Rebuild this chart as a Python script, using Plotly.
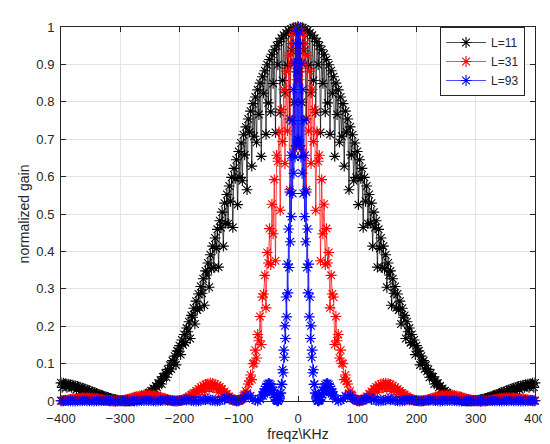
import plotly.graph_objects as go

# frequency grids (KHz)
freq_l11 = list(range(-400, 401, 2))
freq_l31 = list(range(-400, 401, 2))
freq_l93 = list(range(-400, -63, 4)) + list(range(-60, 61)) + list(range(64, 401, 4))

# normalized gain, L=11
gain_l11 = [
    0.0484,
    0.0365, 0.0475, 0.0442, 0.0465, 0.0367, 0.0453, 0.0392, 0.0439, 0.0362, 0.0423,
    0.0378, 0.0406, 0.0302, 0.0388, 0.0355, 0.0368, 0.0286, 0.0346, 0.0295, 0.0324,
    0.0263, 0.0301, 0.0263, 0.0277, 0.0201, 0.0253, 0.0226, 0.0228, 0.0173, 0.0203,
    0.0168, 0.0179, 0.0140, 0.0155, 0.0130, 0.0131, 0.0091, 0.0109, 0.0092, 0.0088,
    0.0062, 0.0068, 0.0052, 0.0050, 0.0035, 0.0035, 0.0025, 0.0022, 0.0012, 0.0011,
    0.0007, 0.0004, 0.0002, 0.0000, 0.0000, 0.0001, 0.0002, 0.0005, 0.0007, 0.0013,
    0.0014, 0.0026, 0.0033, 0.0044, 0.0044, 0.0068, 0.0071, 0.0095, 0.0095, 0.0131,
    0.0137, 0.0171, 0.0148, 0.0219, 0.0230, 0.0273, 0.0242, 0.0333, 0.0322, 0.0401,
    0.0367, 0.0475, 0.0469, 0.0554, 0.0456, 0.0645, 0.0650, 0.0741, 0.0634, 0.0845,
    0.0792, 0.0957, 0.0857, 0.108, 0.104, 0.120, 0.0965, 0.134, 0.133, 0.148,
    0.124, 0.163, 0.150, 0.178, 0.156, 0.195, 0.185, 0.212, 0.167, 0.229,
    0.224, 0.248, 0.206, 0.267, 0.243, 0.286, 0.249, 0.306, 0.288, 0.327,
    0.256, 0.348, 0.337, 0.369, 0.304, 0.391, 0.354, 0.414, 0.357, 0.436,
    0.408, 0.459, 0.358, 0.482, 0.464, 0.505, 0.414, 0.529, 0.475, 0.552,
    0.474, 0.575, 0.534, 0.598, 0.464, 0.622, 0.595, 0.645, 0.525, 0.667,
    0.598, 0.690, 0.589, 0.712, 0.658, 0.733, 0.565, 0.754, 0.719, 0.775,
    0.628, 0.795, 0.708, 0.813, 0.692, 0.832, 0.766, 0.850, 0.654, 0.867,
    0.823, 0.883, 0.713, 0.899, 0.797, 0.913, 0.773, 0.927, 0.849, 0.939,
    0.718, 0.950, 0.899, 0.961, 0.772, 0.970, 0.857, 0.978, 0.824, 0.984,
    0.898, 0.990, 0.754, 0.994, 0.936, 0.998, 0.799, 0.999, 0.880,
    1.000, 0.880, 0.999, 0.799, 0.998, 0.936, 0.994, 0.754, 0.990, 0.898,
    0.984, 0.824, 0.978, 0.857, 0.970, 0.772, 0.961, 0.899, 0.950, 0.718,
    0.939, 0.849, 0.927, 0.773, 0.913, 0.797, 0.899, 0.713, 0.883, 0.823,
    0.867, 0.654, 0.850, 0.766, 0.832, 0.692, 0.813, 0.708, 0.795, 0.628,
    0.775, 0.719, 0.754, 0.565, 0.733, 0.658, 0.712, 0.589, 0.690, 0.598,
    0.667, 0.525, 0.645, 0.595, 0.622, 0.464, 0.598, 0.534, 0.575, 0.474,
    0.552, 0.475, 0.529, 0.414, 0.505, 0.464, 0.482, 0.358, 0.459, 0.408,
    0.436, 0.357, 0.414, 0.354, 0.391, 0.304, 0.369, 0.337, 0.348, 0.256,
    0.327, 0.288, 0.306, 0.249, 0.286, 0.243, 0.267, 0.206, 0.248, 0.224,
    0.229, 0.167, 0.212, 0.185, 0.195, 0.156, 0.178, 0.150, 0.163, 0.124,
    0.148, 0.133, 0.134, 0.0965, 0.120, 0.104, 0.108, 0.0857, 0.0957, 0.0792,
    0.0845, 0.0634, 0.0741, 0.0650, 0.0645, 0.0456, 0.0554, 0.0469, 0.0475, 0.0367,
    0.0401, 0.0322, 0.0333, 0.0242, 0.0273, 0.0230, 0.0219, 0.0148, 0.0171, 0.0137,
    0.0131, 0.0095, 0.0095, 0.0071, 0.0068, 0.0044, 0.0044, 0.0033, 0.0026, 0.0014,
    0.0013, 0.0007, 0.0005, 0.0002, 0.0001, 0.0000, 0.0000, 0.0002, 0.0004, 0.0007,
    0.0011, 0.0012, 0.0022, 0.0025, 0.0035, 0.0035, 0.0050, 0.0052, 0.0068, 0.0062,
    0.0088, 0.0092, 0.0109, 0.0091, 0.0131, 0.0130, 0.0155, 0.0140, 0.0179, 0.0168,
    0.0203, 0.0173, 0.0228, 0.0226, 0.0253, 0.0201, 0.0277, 0.0263, 0.0301, 0.0263,
    0.0324, 0.0295, 0.0346, 0.0286, 0.0368, 0.0355, 0.0388, 0.0302, 0.0406, 0.0378,
    0.0423, 0.0362, 0.0439, 0.0392, 0.0453, 0.0367, 0.0465, 0.0442, 0.0475, 0.0365,
    0.0484,
]

# L=31
gain_l31 = [
    0.0008,
    0.0007, 0.0015, 0.0018, 0.0023, 0.0019, 0.0033, 0.0032, 0.0042, 0.0036, 0.0053,
    0.0046, 0.0062, 0.0040, 0.0071, 0.0070, 0.0078, 0.0055, 0.0083, 0.0073, 0.0086,
    0.0064, 0.0087, 0.0069, 0.0085, 0.0050, 0.0080, 0.0072, 0.0073, 0.0047, 0.0064,
    0.0051, 0.0054, 0.0036, 0.0043, 0.0030, 0.0032, 0.0016, 0.0021, 0.0016, 0.0012,
    0.0006, 0.0005, 0.0003, 0.0001, 0.0000, 0.0000, 0.0001, 0.0002, 0.0003, 0.0008,
    0.0012, 0.0018, 0.0016, 0.0031, 0.0033, 0.0046, 0.0041, 0.0064, 0.0058, 0.0083,
    0.0055, 0.0102, 0.0103, 0.0120, 0.0088, 0.0137, 0.0124, 0.0151, 0.0115, 0.0161,
    0.0132, 0.0167, 0.0101, 0.0168, 0.0155, 0.0164, 0.0109, 0.0155, 0.0128, 0.0142,
    0.0099, 0.0124, 0.0092, 0.0104, 0.0056, 0.0083, 0.0066, 0.0060, 0.0034, 0.0040,
    0.0026, 0.0022, 0.0011, 0.0009, 0.0003, 0.0001, 0.0000, 0.0001, 0.0004, 0.0008,
    0.0010, 0.0025, 0.0031, 0.0049, 0.0048, 0.0082, 0.0081, 0.0122, 0.0087, 0.0168,
    0.0179, 0.0218, 0.0166, 0.0270, 0.0254, 0.0321, 0.0255, 0.0368, 0.0312, 0.0410,
    0.0257, 0.0443, 0.0424, 0.0465, 0.0321, 0.0475, 0.0409, 0.0470, 0.0343, 0.0452,
    0.0350, 0.0419, 0.0238, 0.0373, 0.0322, 0.0316, 0.0194, 0.0253, 0.0189, 0.0186,
    0.0113, 0.0121, 0.0074, 0.0065, 0.0025, 0.0022, 0.0008, 0.0001, 0.0001, 0.0008,
    0.0022, 0.0051, 0.0065, 0.0135, 0.0157, 0.0268, 0.0212, 0.0453, 0.0528, 0.0696,
    0.0571, 0.0996, 0.101, 0.136, 0.115, 0.178, 0.161, 0.226, 0.151, 0.278,
    0.286, 0.336, 0.249, 0.397, 0.369, 0.461, 0.365, 0.526, 0.447, 0.592,
    0.375, 0.657, 0.641, 0.720, 0.510, 0.779, 0.694, 0.833, 0.635, 0.882,
    0.722, 0.923, 0.565, 0.956, 0.901, 0.980, 0.673, 0.995, 0.859,
    1.000, 0.859, 0.995, 0.673, 0.980, 0.901, 0.956, 0.565, 0.923, 0.722,
    0.882, 0.635, 0.833, 0.694, 0.779, 0.510, 0.720, 0.641, 0.657, 0.375,
    0.592, 0.447, 0.526, 0.365, 0.461, 0.369, 0.397, 0.249, 0.336, 0.286,
    0.278, 0.151, 0.226, 0.161, 0.178, 0.115, 0.136, 0.101, 0.0996, 0.0571,
    0.0696, 0.0528, 0.0453, 0.0212, 0.0268, 0.0157, 0.0135, 0.0065, 0.0051, 0.0022,
    0.0008, 0.0001, 0.0001, 0.0008, 0.0022, 0.0025, 0.0065, 0.0074, 0.0121, 0.0113,
    0.0186, 0.0189, 0.0253, 0.0194, 0.0316, 0.0322, 0.0373, 0.0238, 0.0419, 0.0350,
    0.0452, 0.0343, 0.0470, 0.0409, 0.0475, 0.0321, 0.0465, 0.0424, 0.0443, 0.0257,
    0.0410, 0.0312, 0.0368, 0.0255, 0.0321, 0.0254, 0.0270, 0.0166, 0.0218, 0.0179,
    0.0168, 0.0087, 0.0122, 0.0081, 0.0082, 0.0048, 0.0049, 0.0031, 0.0025, 0.0010,
    0.0008, 0.0004, 0.0001, 0.0000, 0.0001, 0.0003, 0.0009, 0.0011, 0.0022, 0.0026,
    0.0040, 0.0034, 0.0060, 0.0066, 0.0083, 0.0056, 0.0104, 0.0092, 0.0124, 0.0099,
    0.0142, 0.0128, 0.0155, 0.0109, 0.0164, 0.0155, 0.0168, 0.0101, 0.0167, 0.0132,
    0.0161, 0.0115, 0.0151, 0.0124, 0.0137, 0.0088, 0.0120, 0.0103, 0.0102, 0.0055,
    0.0083, 0.0058, 0.0064, 0.0041, 0.0046, 0.0033, 0.0031, 0.0016, 0.0018, 0.0012,
    0.0008, 0.0003, 0.0002, 0.0001, 0.0000, 0.0000, 0.0001, 0.0003, 0.0005, 0.0006,
    0.0012, 0.0016, 0.0021, 0.0016, 0.0032, 0.0030, 0.0043, 0.0036, 0.0054, 0.0051,
    0.0064, 0.0047, 0.0073, 0.0072, 0.0080, 0.0050, 0.0085, 0.0069, 0.0087, 0.0064,
    0.0086, 0.0073, 0.0083, 0.0055, 0.0078, 0.0070, 0.0071, 0.0040, 0.0062, 0.0046,
    0.0053, 0.0036, 0.0042, 0.0032, 0.0033, 0.0019, 0.0023, 0.0018, 0.0015, 0.0007,
    0.0008,
]

# L=93
gain_l93 = [
    0.0006, 0.0005, 0.0008, 0.0004, 0.0003,
    0.0000, 0.0000, 0.0001, 0.0005, 0.0006, 0.0010, 0.0006, 0.0005, 0.0001, 0.0000,
    0.0001, 0.0004, 0.0006, 0.0011, 0.0008, 0.0009, 0.0003, 0.0001, 0.0000, 0.0002,
    0.0005, 0.0012, 0.0010, 0.0013, 0.0006, 0.0004, 0.0000, 0.0000, 0.0003, 0.0010,
    0.0011, 0.0019, 0.0011, 0.0011, 0.0003, 0.0000, 0.0002, 0.0010, 0.0013, 0.0024,
    0.0016, 0.0017, 0.0005, 0.0001, 0.0001, 0.0008, 0.0013, 0.0030, 0.0024, 0.0030,
    0.0013, 0.0006, 0.0000, 0.0004, 0.0013, 0.0035, 0.0034, 0.0050, 0.0027, 0.0020,
    0.0003, 0.0001, 0.0010, 0.0041, 0.0047, 0.0083, 0.0054, 0.0052, 0.0015, 0.0001,
    0.0006, 0.0045, 0.0070, 0.0148, 0.0115, 0.0139, 0.0057, 0.0022, 0.0001, 0.0049,
    0.0166, 0.0142, 0.0241, 0.0196, 0.0318, 0.0248, 0.0387, 0.0291, 0.0440, 0.0320,
    0.0469, 0.0330, 0.0467, 0.0319, 0.0434, 0.0284, 0.0371, 0.0231, 0.0284, 0.0165,
    0.0185, 0.0096, 0.0091, 0.0037, 0.0022, 0.0003, 0.0001, 0.0011, 0.0051, 0.0077,
    0.0195, 0.0216, 0.0452, 0.0440, 0.0837, 0.0756, 0.136, 0.117, 0.201, 0.167,
    0.278, 0.225, 0.366, 0.289, 0.460, 0.357, 0.559, 0.426, 0.657, 0.493,
    0.750, 0.555, 0.833, 0.609, 0.903, 0.652, 0.956, 0.683, 0.989, 0.698,
    1.000,
    0.698, 0.989, 0.683, 0.956, 0.652, 0.903, 0.609, 0.833, 0.555, 0.750,
    0.493, 0.657, 0.426, 0.559, 0.357, 0.460, 0.289, 0.366, 0.225, 0.278,
    0.167, 0.201, 0.117, 0.136, 0.0756, 0.0837, 0.0440, 0.0452, 0.0216, 0.0195,
    0.0077, 0.0051, 0.0011, 0.0001, 0.0003, 0.0022, 0.0037, 0.0091, 0.0096, 0.0185,
    0.0165, 0.0284, 0.0231, 0.0371, 0.0284, 0.0434, 0.0319, 0.0467, 0.0330, 0.0469,
    0.0320, 0.0440, 0.0291, 0.0387, 0.0248, 0.0318, 0.0196, 0.0241, 0.0142, 0.0166,
    0.0049, 0.0001, 0.0022, 0.0057, 0.0139, 0.0115, 0.0148, 0.0070, 0.0045, 0.0006,
    0.0001, 0.0015, 0.0052, 0.0054, 0.0083, 0.0047, 0.0041, 0.0010, 0.0001, 0.0003,
    0.0020, 0.0027, 0.0050, 0.0034, 0.0035, 0.0013, 0.0004, 0.0000, 0.0006, 0.0013,
    0.0030, 0.0024, 0.0030, 0.0013, 0.0008, 0.0001, 0.0001, 0.0005, 0.0017, 0.0016,
    0.0024, 0.0013, 0.0010, 0.0002, 0.0000, 0.0003, 0.0011, 0.0011, 0.0019, 0.0011,
    0.0010, 0.0003, 0.0000, 0.0000, 0.0004, 0.0006, 0.0013, 0.0010, 0.0012, 0.0005,
    0.0002, 0.0000, 0.0001, 0.0003, 0.0009, 0.0008, 0.0011, 0.0006, 0.0004, 0.0001,
    0.0000, 0.0001, 0.0005, 0.0006, 0.0010, 0.0006, 0.0005, 0.0001, 0.0000, 0.0000,
    0.0003, 0.0004, 0.0008, 0.0005, 0.0006,
]

series = [
    ('L=11', freq_l11, gain_l11, '#000000'),
    ('L=31', freq_l31, gain_l31, '#ff0000'),
    ('L=93', freq_l93, gain_l93, '#0000ff'),
]

x_ticks = [-400, -300, -200, -100, 0, 100, 200, 300, 400]
y_ticks = [0, 0.1, 0.2, 0.3, 0.4, 0.5, 0.6, 0.7, 0.8, 0.9, 1]
y_labels = ['0', '0.1', '0.2', '0.3', '0.4', '0.5', '0.6', '0.7', '0.8', '0.9', '1']

fig = go.Figure()
for name, x, y, color in series:
    if len(x) != len(y):
        raise ValueError(f'{name}: {len(x)} x vs {len(y)} y')
    fig.add_trace(go.Scatter(
        x=x, y=y, name=name, mode='lines+markers', cliponaxis=False,
        line=dict(color=color, width=0.7),
        marker=dict(symbol='asterisk-open', size=9, color=color,
                    line=dict(width=1.1, color=color)),
    ))

axis_style = dict(
    showgrid=True, gridcolor='#e3e3e3', gridwidth=1,
    showline=True, linecolor='#262626', linewidth=1, mirror='ticks',
    ticks='inside', ticklen=5, tickcolor='#262626', zeroline=False,
    automargin=True,
)

fig.update_layout(
    width=550, height=444,
    margin=dict(l=53, r=17, t=13, b=51),
    plot_bgcolor='white', paper_bgcolor='white',
    font=dict(family='Liberation Sans, Arial, sans-serif', size=13, color='#262626'),
    xaxis=dict(range=[-400, 400], tickvals=x_ticks, ticklabelstandoff=5,
               title=dict(text='freqz\\KHz', font=dict(size=14), standoff=4), **axis_style),
    yaxis=dict(range=[0, 1], tickvals=y_ticks, ticktext=y_labels, ticklabelstandoff=3,
               title=dict(text='normalized gain', font=dict(size=14), standoff=3), **axis_style),
    legend=dict(x=0.979, y=1.0, xanchor='right', yanchor='top',
                bgcolor='white', bordercolor='#262626', borderwidth=1,
                font=dict(size=12), tracegroupgap=0, itemwidth=40),
)

fig.write_html('out.html')
